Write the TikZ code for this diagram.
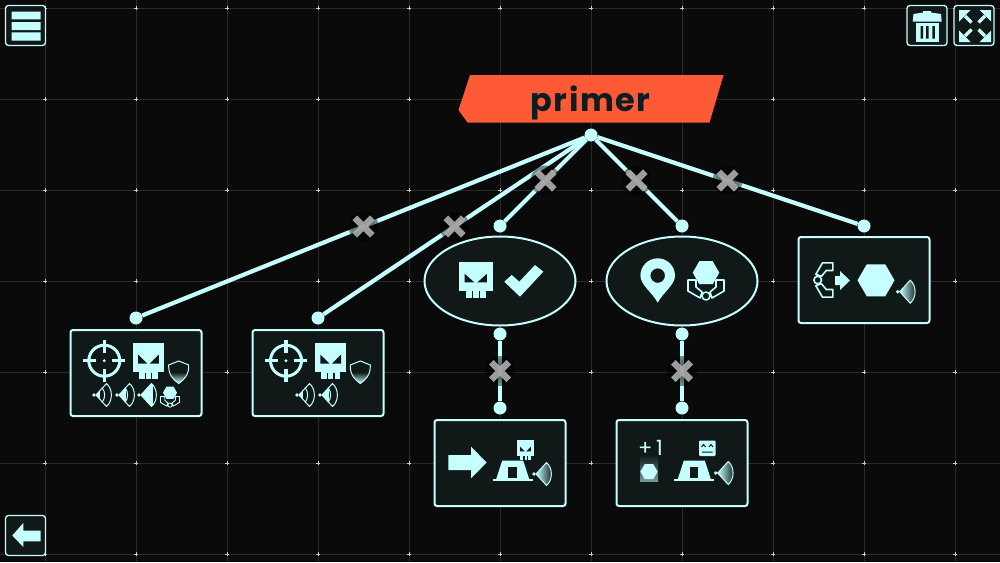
\documentclass[tikz,border=0pt]{standalone}
\usepackage{fontspec}
\newfontfamily\titlefont[LetterSpace=4.5]{Poppins}
\newfontfamily\countfont[LetterSpace=18]{Poppins}
\usetikzlibrary{shapes.geometric, shapes.misc}
\definecolor{ice}{HTML}{C6FFFF}
\definecolor{panelbg}{HTML}{101818}
\definecolor{spacebg}{HTML}{0A0A0A}
\definecolor{gridline}{HTML}{2A2A2A}
\definecolor{banner}{HTML}{FF5A36}
\definecolor{ink}{HTML}{0C1E22}
\tikzstyle{panel} = [rectangle,
minimum width=131pt,
minimum height=86pt,
draw=ice,
fill=panelbg,
line width=2pt,
rounded corners=2.5pt]
\tikzstyle{oval} = [ellipse,
minimum width=151pt,
minimum height=89pt,
inner sep=0pt,
draw=ice,
fill=panelbg,
line width=2pt]
\tikzstyle{button} = [rectangle,
minimum width=40pt,
minimum height=40pt,
draw=ice,
fill=panelbg,
line width=1.3pt,
rounded corners=3pt]
\tikzstyle{port} = [circle, fill=ice, inner sep=0pt, minimum size=13pt]
\tikzstyle{wire} = [draw=ice, line width=4.2pt]
\tikzstyle{cut} = [cross out, draw=white!68!black, draw opacity=.9, line width=6.5pt,
minimum size=11pt, inner sep=0pt]
\def\fanpath{(2,0) -- (12.5,-11.5) .. controls (19,-6) and (19,6) .. (12.5,11.5) -- cycle}
\def\hexpath{(0:13.3) -- (60:13.3) -- (120:13.3) -- (180:13.3) -- (240:13.3) -- (300:13.3) -- cycle}
\def\clawpath{(-18,-16) -- (-10,-16) -- (-10,-9) -- (-4,-4) -- (-6,2) -- (-18,-5) -- cycle
  (18,-16) -- (10,-16) -- (10,-9) -- (4,-4) -- (6,2) -- (18,-5) -- cycle (0,0) circle (4)}
\tikzset{
  pics/skull/.style={code={
    \fill[ice] (-15.5,-18) rectangle (15.5,11);
    \fill[ice] (-9.5,11) rectangle (9.5,18);
    \draw[panelbg, line width=1.4pt] (-3.2,11.5) -- (-3.2,18) (3.2,11.5) -- (3.2,18);
    \fill[panelbg] (-10.3,-6.3) -- (-1.3,2.5) -- (-10.3,2.5) -- cycle;
    \fill[panelbg] (10.3,-6.3) -- (1.3,2.5) -- (10.3,2.5) -- cycle;
  }},
  pics/target/.style={code={
    \draw[ice, line width=3pt] (0,0) circle (15.5);
    \draw[ice, line width=3.4pt] (-21,0) -- (-8,0) (8,0) -- (21,0) (0,-21) -- (0,-8) (0,8) -- (0,21);
    \fill[ice] (0,0) circle (1.6);
  }},
  pics/shield/.style={code={
    \shade[top color=panelbg, bottom color=ice, middle color=panelbg]
      (-10,-7) -- (0,-11) -- (10,-7) .. controls (10.5,3) and (5,8) .. (0,11.5) .. controls (-5,8) and (-10.5,3) .. (-10,-7) -- cycle;
    \draw[ice, line width=1pt]
      (-10,-7) -- (0,-11) -- (10,-7) .. controls (10.5,3) and (5,8) .. (0,11.5) .. controls (-5,8) and (-10.5,3) .. (-10,-7) -- cycle;
  }},
  pics/wave/.style={code={
    \fill[ice] (0,0) circle (1.9);
    \begin{scope}
      \clip \fanpath;
      \fill[ice] (0,-13) rectangle (#1,13);
    \end{scope}
    \draw[ice, line width=1pt] \fanpath;
    \draw[ice, line width=1pt] (8,-7.5) .. controls (11.5,-3) and (11.5,3) .. (8,7.5);
  }},
  pics/wavefade/.style={code={
    \fill[ice] (0,0) circle (1.9);
    \shade[left color=ice, right color=panelbg] \fanpath;
    \draw[ice, line width=1pt] \fanpath;
  }},
  pics/hexa/.style={code={
    \fill[ice] \hexpath;
  }},
  pics/claw/.style={code={
    \draw[ice, line width=#1, line join=round] \clawpath;
  }},
  pics/hexclaw/.style={code={
    \fill[ice] \hexpath;
    \begin{scope}[shift={(0,23.3)}]
      \draw[ice, line width=#1, line join=round] \clawpath;
    \end{scope}
  }},
  pics/tent/.style={code={
    \fill[ice] (-10.5,-19.3) -- (10.5,-19.3) -- (16.5,-1) -- (-16.5,-1) -- cycle;
    \draw[ice, line width=1.2pt] (-20,0) -- (20,0);
    \fill[panelbg] (-4.5,-13) rectangle (4,-2);
  }},
  pics/resize/.style={code={
    \fill[ice] (16,-16) -- (16,-4.5) -- (4.5,-16) -- cycle;
    \draw[ice, line width=3.4pt] (10,-10) -- (3.5,-3.5);
  }}
}

\begin{document}
\begin{tikzpicture}[x=1pt, y=-1pt]
  \useasboundingbox (0,0) rectangle (1000,562);
  \fill[spacebg] (0,0) rectangle (1000,562);

  % grid
  \foreach \gx in {45,136,...,955} \draw[gridline, line width=1pt] (\gx,0) -- (\gx,562);
  \foreach \gy in {8,99,...,554} \draw[gridline, line width=1pt] (0,\gy) -- (1000,\gy);
  \foreach \gx in {45,136,...,955} \foreach \gy in {8,99,...,554}
    \draw[white!80!black, line width=.8pt] (\gx-2,\gy) -- (\gx+2,\gy) (\gx,\gy-2) -- (\gx,\gy+2);

  % title
  \fill[banner] (470,75) -- (723.5,75) -- (709.5,122.5) -- (467.5,122.5) -- (458.5,110) -- cycle;
  \node (primer) [anchor=base, text=ink, inner sep=0pt, font=\titlefont\bfseries\fontsize{32}{32}\selectfont] at (590.5,111.5) {primer};

  % panels
  \node (goalA) [panel] at (136,373) {};
  \node (goalB) [panel] at (318,373) {};
  \node (killed) [oval] at (500,281) {};
  \node (placed) [oval] at (682,281) {};
  \node (moveOn) [panel] at (500,463) {};
  \node (bonus) [panel] at (682,463) {};
  \node (drop) [panel] at (864,280) {};

  % ports
  \node (root) [port] at (591,135) {};
  \node (portA) [port] at (136,318) {};
  \node (portB) [port] at (318,318) {};
  \node (portC) [port] at (500,226) {};
  \node (portD) [port] at (682,226) {};
  \node (portE) [port] at (864,226) {};
  \node (outC) [port] at (500,334) {};
  \node (outD) [port] at (682,334) {};
  \node (portF) [port] at (500,408) {};
  \node (portG) [port] at (682,408) {};

  % connectors
  \draw [wire] (root) -- coordinate[midway] (cutA) (portA);
  \draw [wire] (root) -- coordinate[midway] (cutB) (portB);
  \draw [wire] (root) -- coordinate[midway] (cutC) (portC);
  \draw [wire] (root) -- coordinate[midway] (cutD) (portD);
  \draw [wire] (root) -- coordinate[midway] (cutE) (portE);
  \draw [wire] (outC) -- coordinate[midway] (cutF) (portF);
  \draw [wire] (outD) -- coordinate[midway] (cutG) (portG);
  \foreach \c in {cutA,cutB,cutC,cutD,cutE,cutF,cutG} {
    \fill[black, opacity=.45] (\c) circle (15);
    \foreach \r in {12,9} \fill[black, opacity=.12] (\c) circle (\r);
    \node (\c mark) [cut] at (\c) {};
  }

  % first panel
  \pic at (104.3,360.7) {target};
  \pic at (148.5,361) {skull};
  \pic at (178.7,372) {shield};
  \pic at (94,395) {wave=6};
  \pic at (117,395) {wave=9};
  \pic at (139,395) {wave=14};
  \pic[scale=.53] at (170,392.7) {hexclaw=.9pt};

  % second panel
  \pic at (286,360.7) {target};
  \pic at (330.7,361) {skull};
  \pic at (360.3,372) {shield};
  \pic at (297,395) {wave=6};
  \pic at (320,395) {wave=9};

  % ovals
  \pic[xscale=1.08, yscale=.98] at (475.8,280) {skull};
  \fill[ice] (504.3,281.7) -- (520,296.7) -- (543.3,271.7) -- (535,265) -- (519.3,281.7) -- (511.7,275) -- cycle;
  \fill[ice, even odd rule] (657.7,302.7) .. controls (652,292) and (640.4,285) .. (640.4,275.6)
    arc[start angle=180, end angle=360, radius=17.3] .. controls (675,285) and (663.4,292) .. (657.7,302.7) -- cycle
    (657.7,275.6) circle (7.3);
  \pic at (706,272.7) {hexclaw=1.6pt};

  % lower panels
  \fill[ice] (448.3,455) -- (471,455) -- (471,446.7) -- (486.7,462.5) -- (471,478.3) -- (471,470) -- (448.3,470) -- cycle;
  \pic at (512.7,480) {tent};
  \pic[scale=.53] at (525.5,450) {skull};
  \pic at (534,474) {wavefade};

  \shade[top color=panelbg, bottom color=ice!55!panelbg] (640,455) rectangle (658,481);
  \pic[scale=.65] at (649,471.7) {hexa};
  \node (plusOne) [anchor=base, text=ice, inner sep=0pt, font=\countfont\fontsize{21}{21}\selectfont] at (650.5,455.5) {+1};
  \pic at (694.3,480) {tent};
  \fill[ice, rounded corners=1pt] (699,440.7) rectangle (715.7,456);
  \draw[panelbg, line width=1pt] (701.5,447) -- (703.5,444.5) -- (705.5,447) (709,447) -- (711,444.5) -- (713,447) (702,452) -- (712.7,452);
  \pic at (715.7,473) {wavefade};

  % last panel
  \pic[rotate=-90, scale=.95] at (817.7,280) {claw=1.6pt};
  \fill[ice] (835,276) -- (840,276) -- (840,271) -- (850,280.5) -- (840,290) -- (840,285) -- (835,285) -- cycle;
  \pic[scale=1.39] at (876,280.3) {hexa};
  \pic at (897.7,291.7) {wavefade};

  % buttons
  \node (menu) [button] at (25.5,25.5) {};
  \fill[ice] (11.7,11.7) rectangle (40.7,19.3) (11.7,22) rectangle (40.7,30) (11.7,32.3) rectangle (40.7,40.7);
  \node (back) [button] at (25.5,535.5) {};
  \fill[ice] (40.7,530.7) -- (23.3,530.7) -- (23.3,523) -- (12.3,535.5) -- (23.3,547) -- (23.3,541.3) -- (40.7,541.3) -- cycle;
  \node (trash) [button] at (927,25.5) {};
  \fill[ice] (912.7,21.7) -- (913.5,14) -- (923,12.5) -- (923,11) -- (931,11) -- (931,12.5) -- (941,14) -- (941.7,21.7) -- cycle;
  \fill[ice] (916,23) rectangle (939.3,41.7);
  \fill[panelbg] (920.5,26) rectangle (923,38.5) (926.2,26) rectangle (928.7,38.5) (932.4,26) rectangle (934.9,38.5);
  \node (expand) [button] at (974,25.5) {};
  \foreach \turn in {0,90,180,270} \pic[rotate=\turn] at (975,26) {resize};
\end{tikzpicture}
\end{document}
